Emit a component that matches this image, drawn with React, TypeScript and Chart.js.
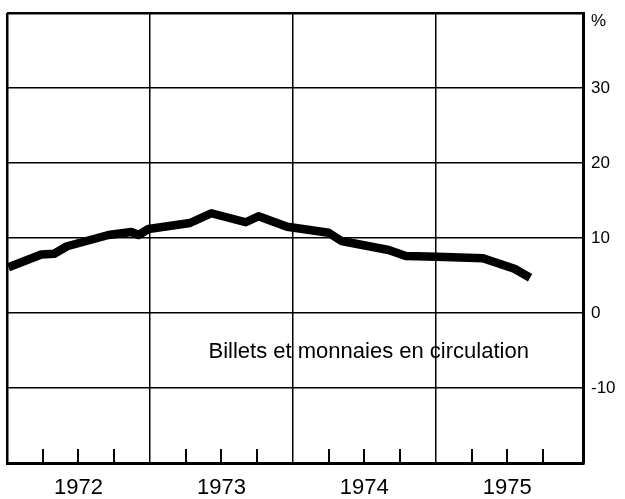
import React, { useEffect, useRef } from 'react';
import { Chart, registerables } from 'chart.js';

Chart.register(...registerables);

// Series: year-on-year change of notes and coins in circulation (%)
const dates = [1972.01, 1972.24, 1972.33, 1972.42, 1972.71, 1972.87, 1972.92, 1972.99, 1973.28, 1973.43, 1973.67, 1973.76, 1973.96, 1974.07, 1974.25, 1974.34, 1974.67, 1974.79, 1975.01, 1975.33, 1975.55, 1975.66];
const values = [6.1, 7.8, 7.9, 8.9, 10.4, 10.8, 10.4, 11.2, 12.0, 13.3, 12.1, 12.9, 11.5, 11.2, 10.7, 9.6, 8.4, 7.6, 7.5, 7.3, 5.9, 4.7];

// X axis: quarter ticks, year labels in the middle of each year
const xTickValues = [1972, 1972.25, 1972.5, 1972.75, 1973, 1973.25, 1973.5, 1973.75, 1974, 1974.25, 1974.5, 1974.75, 1975, 1975.25, 1975.5, 1975.75];
const xTickLabels = ['', '', '1972', '', '', '', '1973', '', '', '', '1974', '', '', '', '1975', ''];
const xMin = 1972;
const xMax = 1976.03;

// Y axis
const yMin = -20;
const yMax = 40;
const yStep = 10;
const unitLabel = '%';

// Annotation
const seriesLabel = 'Billets et monnaies en circulation';
const seriesLabelX = 1973.41;
const seriesLabelY = -6;

const FONT = '"Liberation Sans", Arial, Helvetica, sans-serif';

function zeroPadding(s: any) {
  s.paddingLeft = 0;
  s.paddingRight = 0;
  s.paddingTop = 0;
  s.paddingBottom = 0;
}

export default function App() {
  const ref = useRef<HTMLCanvasElement>(null);

  useEffect(() => {
    if (!ref.current) return;

    const overlay = {
      id: 'overlay',
      afterDraw(chart: any) {
        const { ctx, chartArea, scales } = chart;
        const x = scales.x;
        const y = scales.y;
        ctx.save();
        // inward quarter ticks
        ctx.strokeStyle = '#000';
        ctx.lineWidth = 2;
        xTickValues.forEach((v) => {
          if (Number.isInteger(v)) return;
          const px = Math.round(x.getPixelForValue(v));
          ctx.beginPath();
          ctx.moveTo(px, chartArea.bottom);
          ctx.lineTo(px, chartArea.bottom - 14);
          ctx.stroke();
        });
        // unit label
        ctx.fillStyle = '#000';
        ctx.font = `17px ${FONT}`;
        ctx.textAlign = 'left';
        ctx.textBaseline = 'middle';
        ctx.fillText(unitLabel, chartArea.right + 8, y.getPixelForValue(yMax) + 8);
        // series label
        ctx.font = `22px ${FONT}`;
        ctx.textBaseline = 'alphabetic';
        ctx.fillText(seriesLabel, x.getPixelForValue(seriesLabelX), y.getPixelForValue(seriesLabelY));
        ctx.restore();
      },
    };

    const bg = {
      id: 'bg',
      beforeDraw(chart: any) {
        const { ctx, width, height } = chart;
        ctx.save();
        ctx.fillStyle = '#fff';
        ctx.fillRect(0, 0, width, height);
        ctx.restore();
      },
    };

    const chart = new Chart(ref.current, {
      type: 'line',
      data: {
        datasets: [
          {
            data: dates.map((d, i) => ({ x: d, y: values[i] })),
            borderColor: '#000',
            borderWidth: 8.5,
            pointRadius: 0,
            tension: 0,
            borderJoinStyle: 'round',
            borderCapStyle: 'butt',
          },
        ],
      },
      options: {
        responsive: false,
        animation: false,
        devicePixelRatio: 1,
        layout: { padding: { left: 7, top: 13, right: 0, bottom: 0 } },
        plugins: { legend: { display: false }, tooltip: { enabled: false } },
        scales: {
          x: {
            type: 'linear',
            position: 'bottom',
            min: xMin,
            max: xMax,
            afterBuildTicks: (s: any) => {
              s.ticks = xTickValues.map((v) => ({ value: v }));
            },
            afterFit: (s: any) => {
              s.height = 36;
              zeroPadding(s);
            },
            ticks: {
              autoSkip: false,
              maxRotation: 0,
              minRotation: 0,
              padding: 12,
              color: '#000',
              font: { family: FONT, size: 22 },
              callback: (_v: any, i: number) => xTickLabels[i],
            },
            grid: {
              drawTicks: false,
              color: (c: any) => (c.tick && Number.isInteger(c.tick.value) ? '#000' : 'rgba(0,0,0,0)'),
              lineWidth: (c: any) => (c.tick && c.tick.value === xMin ? 2.5 : 1.5),
            },
            border: { display: true, color: '#000', width: 3 },
          },
          y: {
            position: 'right',
            min: yMin,
            max: yMax,
            afterFit: (s: any) => {
              s.width = 42;
              zeroPadding(s);
            },
            ticks: {
              stepSize: yStep,
              padding: 8,
              color: '#000',
              font: { family: FONT, size: 17 },
              callback: (v: any) => (v === yMax || v === yMin ? '' : String(v)),
            },
            grid: {
              drawTicks: false,
              color: '#000',
              lineWidth: (c: any) => (c.tick && c.tick.value === yMax ? 2.5 : 1.5),
            },
            border: { display: true, color: '#000', width: 3 },
          },
        },
      },
      plugins: [bg, overlay],
    } as any);

    return () => chart.destroy();
  }, []);

  return (
    <div style={{ position: 'absolute', left: 0, top: 0, width: 625, height: 499, background: '#fff' }}>
      <canvas ref={ref} width={625} height={499} style={{ display: 'block', width: 625, height: 499 }} />
    </div>
  );
}
